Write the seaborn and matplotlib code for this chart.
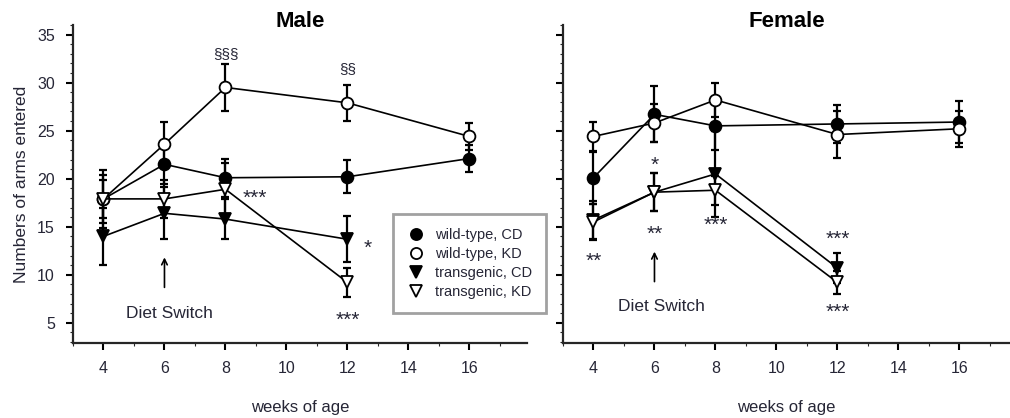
import numpy as np
import matplotlib
matplotlib.use("Agg")
import matplotlib.pyplot as plt
import seaborn as sns
from matplotlib.lines import Line2D
from matplotlib.ticker import MultipleLocator

# data: mean values and error bars
weeks = [4, 6, 8, 12, 16]
weeks_tg = [4, 6, 8, 12]

male_wt_cd = [17.9, 21.5, 20.1, 20.2, 22.1]
male_wt_cd_err = [3.0, 2.0, 2.0, 1.7, 1.4]
male_wt_kd = [17.9, 23.6, 29.5, 27.9, 24.4]
male_wt_kd_err = [2.0, 2.3, 2.4, 1.9, 1.4]
male_tg_cd = [14.0, 16.4, 15.8, 13.7]
male_tg_cd_err = [3.0, 2.7, 2.1, 2.4]
male_tg_kd = [17.9, 17.9, 18.9, 9.2]
male_tg_kd_err = [2.5, 2.0, 2.7, 1.5]

female_wt_cd = [20.1, 26.7, 25.5, 25.7, 25.9]
female_wt_cd_err = [2.7, 2.9, 2.5, 2.0, 2.2]
female_wt_kd = [24.4, 25.8, 28.2, 24.6, 25.2]
female_wt_kd_err = [1.5, 2.0, 1.8, 2.4, 1.9]
female_tg_cd = [15.7, 18.6, 20.5, 10.7]
female_tg_cd_err = [2.0, 2.0, 4.5, 1.6]
female_tg_kd = [15.5, 18.6, 18.8, 9.2]
female_tg_kd_err = [1.9, 2.0, 1.5, 1.2]

labels = ["wild-type, CD", "wild-type, KD", "transgenic, CD", "transgenic, KD"]

# significance marks (x in weeks, y in arm entries)
male_marks = [(8, 33.0, "§§§"), (12, 31.4, "§§"), (8.95, 18.0, "***"),
              (12.66, 12.8, "*"), (12, 5.3, "***")]
female_marks = [(6, 21.4, "*"), (4, 11.4, "**"), (6, 14.2, "**"),
                (8, 15.1, "***"), (12, 13.7, "***"), (12, 6.1, "***")]

sns.set_style("ticks")
plt.rcParams['font.family'] = ['Liberation Sans', 'DejaVu Sans']

txt = '#262636'
styles = [
    dict(marker='o', mfc='black', ms=8.5),
    dict(marker='o', mfc='white', ms=8.5),
    dict(marker='v', mfc='black', ms=8),
    dict(marker='v', mfc='white', ms=8),
]


def draw_panel(ax, series, title, marks, xmax, ylabels=True):
    for (x, y, e), st in zip(series, styles):
        ax.errorbar(x, y, yerr=e, fmt='none', ecolor='black', elinewidth=1.6,
                    capsize=3, capthick=1.6, zorder=2)
        sns.lineplot(x=x, y=y, ax=ax, color='black', linewidth=1.2,
                     marker=st['marker'], markersize=st['ms'],
                     markerfacecolor=st['mfc'], markeredgecolor='black',
                     markeredgewidth=1.3, zorder=3)
    ax.set_xlim(3, xmax)
    ax.set_ylim(2.9, 36)
    ax.set_xticks([4, 6, 8, 10, 12, 14, 16])
    ax.set_yticks([5, 10, 15, 20, 25, 30, 35])
    ax.xaxis.set_minor_locator(MultipleLocator(1))
    ax.yaxis.set_minor_locator(MultipleLocator(1))
    ax.tick_params(axis='both', which='major', length=5, width=1.5,
                   labelsize=11.5, colors='black', labelcolor=txt, pad=8)
    ax.tick_params(axis='both', which='minor', length=2, width=0.8)
    if not ylabels:
        ax.set_yticklabels([])
    for s in ['left', 'bottom']:
        ax.spines[s].set_linewidth(1.6)
    sns.despine(ax=ax)
    ax.text(0.5, 1 - 2 / 318, title, transform=ax.transAxes, ha='center',
            va='baseline', fontsize=16, fontweight='bold', color='black')
    ax.set_xlabel("weeks of age", fontsize=12, color=txt, labelpad=17)
    ax.set_ylabel("")
    for x, y, t in marks:
        fs = 11 if t.startswith("§") else 15
        ax.text(x, y, t, ha='center', va='center', fontsize=fs, color=txt)


fig = plt.figure(figsize=(10.1, 4.18), dpi=100)
ax1 = fig.add_axes([73 / 1010, 1 - 343 / 418, 454 / 1010, 318 / 418])
ax2 = fig.add_axes([563 / 1010, 1 - 343 / 418, 447 / 1010, 318 / 418])

male = [(weeks, male_wt_cd, male_wt_cd_err), (weeks, male_wt_kd, male_wt_kd_err),
        (weeks_tg, male_tg_cd, male_tg_cd_err), (weeks_tg, male_tg_kd, male_tg_kd_err)]
female = [(weeks, female_wt_cd, female_wt_cd_err), (weeks, female_wt_kd, female_wt_kd_err),
          (weeks_tg, female_tg_cd, female_tg_cd_err), (weeks_tg, female_tg_kd, female_tg_kd_err)]

draw_panel(ax1, male, "Male", male_marks, 17.89)
draw_panel(ax2, female, "Female", female_marks, 17.66, ylabels=False)
ax1.set_ylabel("Numbers of arms entered", fontsize=12.5, color=txt, labelpad=6)

# diet switch arrows
ax1.annotate("", xy=(6, 12.1), xytext=(6, 8.4),
             arrowprops=dict(arrowstyle='->', color='black', lw=1.2))
ax1.text(6.16, 6.0, "Diet Switch", ha='center', va='center', fontsize=12.5, color=txt)
ax2.annotate("", xy=(6, 12.7), xytext=(6, 9.0),
             arrowprops=dict(arrowstyle='->', color='black', lw=1.2))
ax2.text(6.23, 6.7, "Diet Switch", ha='center', va='center', fontsize=12.5, color=txt)

handles = [Line2D([], [], linestyle='none', marker=st['marker'], markersize=8,
                  markerfacecolor=st['mfc'], markeredgecolor='black',
                  markeredgewidth=1.3) for st in styles]
leg = fig.legend(handles, labels, loc='upper left',
                 bbox_to_anchor=(393 / 1010, 1 - 214 / 418), fontsize=10.5,
                 frameon=True, fancybox=False, handletextpad=0.75,
                 borderpad=0.95, labelspacing=0.35, handlelength=1.2,
                 borderaxespad=0)
leg.get_frame().set_edgecolor('#8a8a8a')
leg.get_frame().set_linewidth(2)
for t in leg.get_texts():
    t.set_color(txt)

fig.savefig("out.png", dpi=100)
